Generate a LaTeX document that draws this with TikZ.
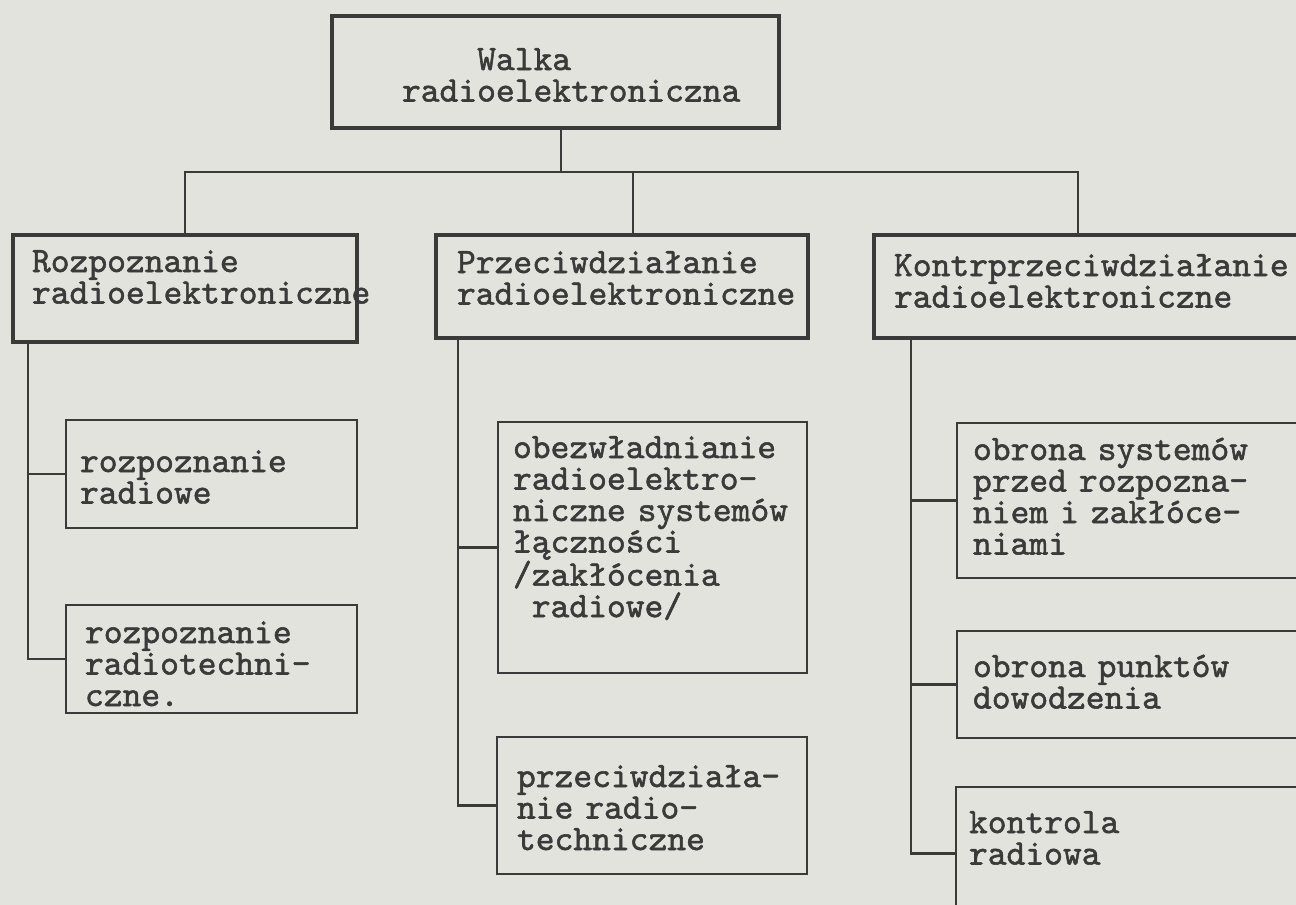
\documentclass[tikz,border=0pt]{standalone}
\usepackage{fontspec}
\usepackage{tikz}
\usetikzlibrary{calc}

\newfontfamily\maszyna{lmmono10-regular.otf}[HyphenChar=None,FakeBold=1.5]
\definecolor{papier}{HTML}{E3E3DE}
\definecolor{tusz}{HTML}{3A3A3A}

\tikzset{
  ramka/.style={draw=tusz, line width=2.5pt, anchor=north west, inner ysep=0pt,
    outer sep=0pt, align=left, text=tusz, font=\maszyna\fontsize{35.8pt}{31.5pt}\selectfont},
  gruba/.style={ramka, line width=4pt},
  linia/.style={draw=tusz, line width=2.5pt}
}

\begin{document}
\begin{tikzpicture}[x=1pt,y=-1pt]
            \fill[papier] (0,0) rectangle (1296,905);
            \useasboundingbox (0,0) rectangle (1296,905);
            \clip (0,0) rectangle (1296,905);
            % Boxes
            \node[gruba, inner xsep=70pt, text width=307pt, text height=54pt, text depth=58pt] (walka) at (332,16)
                {\hspace*{2.1em}Walka\\radioelektroniczna};
            \node[gruba, inner xsep=19pt, text width=306pt, text height=37pt, text depth=70pt] (rozp) at (13,235)
                {Rozpoznanie\\radioelektroniczne};
            \node[gruba, inner xsep=21pt, text width=330pt, text height=38pt, text depth=65pt] (przec) at (436,235)
                {Przeciwdziałanie\\radioelektroniczne};
            \node[gruba, inner xsep=20pt, text width=396pt, text height=41pt, text depth=62pt] (kontr) at (874,235)
                {Kontrprzeciwdziałanie\\radioelektroniczne};
            \node[ramka, inner xsep=14pt, text width=263pt, text height=52pt, text depth=56pt] (rradio) at (66,420)
                {rozpoznanie\\radiowe};
            \node[ramka, inner xsep=19pt, text width=253pt, text height=38pt, text depth=70pt] (rtech) at (66,605)
                {rozpoznanie\\radiotechni-\\czne.};
            \node[ramka, inner xsep=15pt, text width=279pt, text height=36pt, text depth=215pt] (obezw) at (498,422)
                {obezwładnianie\\radioelektro-\\niczne systemów\\łączności\\/zakłócenia\\\hspace*{0.525em}radiowe/};
            \node[ramka, inner xsep=20pt, text width=270pt, text height=50pt, text depth=87pt] (prtech) at (497,737)
                {przeciwdziała-\\nie radio-\\techniczne};
            \node[ramka, inner xsep=16pt, text width=321pt, text height=37pt, text depth=118pt] (obsys) at (957,423)
                {obrona systemów\\przed rozpozna-\\niem i zakłóce-\\niami};
            \node[ramka, inner xsep=16pt, text width=321pt, text height=46pt, text depth=61pt] (obpkt) at (957,631)
                {obrona punktów\\dowodzenia};
            \node[ramka, inner xsep=13pt, text width=328pt, text height=46pt, text depth=87pt] (kontrola) at (956,787)
                {kontrola\\radiowa};
            % Top level
            \coordinate (szyna) at (561,172);
            \draw[linia] (walka.south -| szyna) -- (szyna);
            \draw[linia] (rozp.north) |- ($(kontr.north west)+(204,-63)$) -- ($(kontr.north west)+(204,0)$);
            \draw[linia] ($(przec.north west)+(197,0)$) -- ++(0,-63);
            % Branches
            \draw[linia] ($(rozp.south west)+(15,0)$) |- (rtech.west);
            \draw[linia] (rradio.west) -- ++(-38,0);
            \draw[linia] ($(przec.south west)+(22,0)$) |- (prtech.west);
            \draw[linia] (obezw.west) -- ++(-40,0);
            \draw[linia] ($(kontr.south west)+(37,0)$) |- (kontrola.west);
            \draw[linia] (obsys.west) -- ++(-46,0);
            \draw[linia] (obpkt.west) -- ++(-46,0);
\end{tikzpicture}
\end{document}
